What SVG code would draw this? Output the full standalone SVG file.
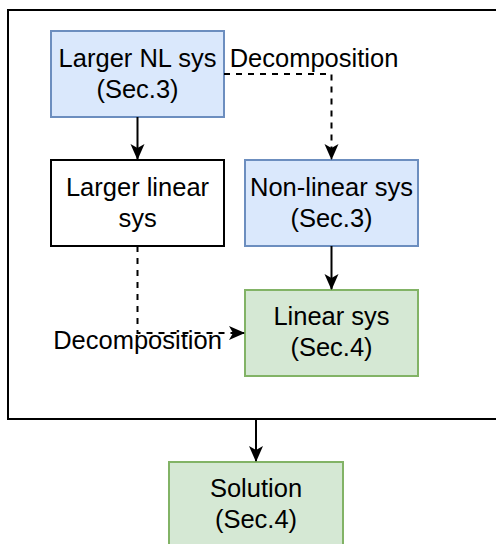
<svg xmlns="http://www.w3.org/2000/svg" width="496" height="544" viewBox="0 0 496 544">
<style>
text{font-family:"Liberation Sans",Arial,sans-serif;font-size:25.5px;fill:#000;text-anchor:middle}
.blue{fill:#dae8fc;stroke:#6c8ebf;stroke-width:2}
.green{fill:#d5e8d4;stroke:#82b366;stroke-width:2}
.white{fill:#fff;stroke:#000;stroke-width:2}
.ln{fill:none;stroke:#000;stroke-width:2}
.dash{stroke-dasharray:6 6}
</style>
<defs>
<marker id="ah" viewBox="0 0 16 16" refX="15" refY="8" markerWidth="16" markerHeight="16" markerUnits="userSpaceOnUse" orient="auto">
<path d="M0,1 L16,8 L0,15 L4,8 Z" fill="#000"/>
</marker>
</defs>
<rect x="0" y="0" width="496" height="544" fill="#fff"/>
<g id="container"><rect x="8" y="10" width="490" height="409" fill="none" stroke="#000" stroke-width="2"/></g>
<g id="nl"><rect class="blue" x="51" y="31" width="173" height="86"/><text x="137.5" y="67">Larger NL sys</text><text x="137.5" y="98">(Sec.3)</text></g>
<g id="ll"><rect class="white" x="51" y="160" width="173" height="86"/><text x="137.5" y="196">Larger linear</text><text x="137.5" y="227">sys</text></g>
<g id="nls"><rect class="blue" x="245" y="160" width="173" height="86"/><text x="331.5" y="196">Non-linear sys</text><text x="331.5" y="227">(Sec.3)</text></g>
<g id="ls"><rect class="green" x="245" y="290" width="173" height="86"/><text x="331.5" y="325">Linear sys</text><text x="331.5" y="356">(Sec.4)</text></g>
<g id="sol"><rect class="green" x="169" y="462" width="174" height="86"/><text x="256" y="497">Solution</text><text x="256" y="528">(Sec.4)</text></g>
<g id="connectors">
<path class="ln" d="M137.5,117 V159" marker-end="url(#ah)"/>
<path class="ln dash" d="M224,74 H331.5 V159" marker-end="url(#ah)"/>
<path class="ln" d="M331.5,246 V289" marker-end="url(#ah)"/>
<path class="ln dash" d="M137.5,246 V333 H244" marker-end="url(#ah)"/>
<path class="ln" d="M256,419 V461" marker-end="url(#ah)"/>
<text x="314" y="67">Decomposition</text>
<text x="137.5" y="349">Decomposition</text>
</g>
</svg>
